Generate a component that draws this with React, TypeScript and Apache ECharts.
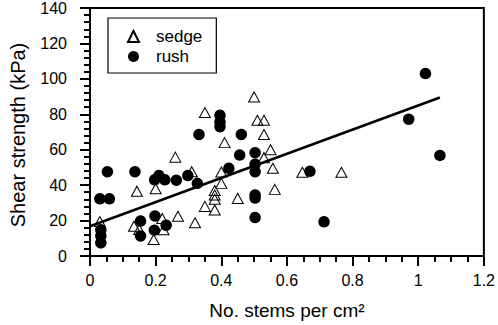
import React, { useEffect, useRef } from "react";
import * as echarts from "echarts";

// Sedge (open triangles)
const sedgeX = [0.50, 0.35, 0.51, 0.53, 0.41, 0.53, 0.26, 0.55, 0.53, 0.31, 0.40, 0.557, 0.143, 0.20, 0.40, 0.563, 0.38, 0.38, 0.38, 0.45, 0.35, 0.38, 0.268, 0.32, 0.03, 0.134, 0.15, 0.22, 0.224, 0.194, 0.647, 0.766];
const sedgeY = [89.8, 81, 76.6, 76.6, 64, 68.6, 55.8, 60, 55.5, 47.6, 47.4, 49.5, 36.6, 38, 41, 37.6, 37, 34.4, 32, 32.5, 28, 26, 22.4, 18.8, 19.5, 16.8, 15, 21.2, 14.8, 9.3, 47.3, 47.3];

// Rush (filled circles)
const rushX = [0.396, 0.396, 0.396, 0.332, 0.461, 0.503, 0.456, 0.503, 0.503, 0.423, 0.053, 0.137, 0.21, 0.197, 0.228, 0.263, 0.298, 0.327, 0.03, 0.059, 0.503, 0.503, 0.503, 0.154, 0.198, 0.232, 0.196, 0.154, 0.033, 0.033, 0.033, 0.67, 0.713, 1.022, 0.971, 1.066];
const rushY = [79.4, 75.7, 73, 68.6, 68.6, 58.3, 57, 51.8, 47.6, 49.5, 47.6, 47.6, 45.4, 43, 43, 42.8, 45.4, 41, 32.3, 32.3, 34.5, 32.7, 21.7, 19.7, 22.6, 17.4, 14.6, 11.3, 14.8, 11.4, 7.4, 47.8, 19.3, 103, 77.2, 56.8];

// Regression line end points
const fitX = [0, 1.066];
const fitY = [16.8, 89.5];

const xTicks = { min: 0, max: 1.2, interval: 0.2 };
const yTicks = { min: 0, max: 140, interval: 20 };

const FONT = "'Liberation Sans', Arial, Helvetica, sans-serif";

export default function App() {
  const ref = useRef<HTMLDivElement>(null);
  useEffect(() => {
    if (!ref.current) return;
    const chart = echarts.init(ref.current, null, { renderer: "svg" });
    const zip = (xs: number[], ys: number[]) => xs.map((x, i) => [x, ys[i]]);
    chart.setOption({
      animation: false,
      backgroundColor: "#fff",
      textStyle: { fontFamily: FONT, color: "#000" },
      grid: {
        left: 81,
        top: 5,
        right: 14,
        bottom: 66,
        show: true,
        borderColor: "#000",
        borderWidth: 2,
        backgroundColor: "transparent",
      },
      legend: {
        orient: "vertical",
        left: 108,
        top: 18,
        data: ["sedge", "rush"],
        padding: [10, 14, 8, 19],
        itemGap: 3,
        itemWidth: 11,
        itemHeight: 11,
        borderColor: "#000",
        borderWidth: 1.2,
        backgroundColor: "#fff",
        textStyle: { fontFamily: FONT, fontSize: 17, color: "#000", padding: [0, 0, 0, 12] },
      },
      xAxis: {
        type: "value",
        min: xTicks.min,
        max: xTicks.max,
        interval: xTicks.interval,
        name: "No. stems per cm\u00B2",
        nameLocation: "middle",
        nameGap: 45,
        nameTextStyle: { fontFamily: FONT, fontSize: 19, color: "#000" },
        axisLine: { show: true, lineStyle: { color: "#000", width: 2 } },
        axisTick: { show: true, length: 10, lineStyle: { color: "#000", width: 2 } },
        minorTick: { show: true, splitNumber: 4, length: 6, lineStyle: { color: "#000", width: 2 } },
        axisLabel: { fontFamily: FONT, fontSize: 16, color: "#000", margin: 16 },
        splitLine: { show: false },
      },
      yAxis: {
        type: "value",
        min: yTicks.min,
        max: yTicks.max,
        interval: yTicks.interval,
        name: "Shear strength (kPa)",
        nameLocation: "middle",
        nameGap: 62,
        nameTextStyle: { fontFamily: FONT, fontSize: 20, color: "#000", padding: [0, 6, 0, 0] },
        axisLine: { show: true, lineStyle: { color: "#000", width: 2 } },
        axisTick: { show: true, length: 10, lineStyle: { color: "#000", width: 2 } },
        minorTick: { show: true, splitNumber: 5, length: 6, lineStyle: { color: "#000", width: 2 } },
        axisLabel: { fontFamily: FONT, fontSize: 16, color: "#000", margin: 23 },
        splitLine: { show: false },
      },
      series: [
        {
          name: "sedge",
          type: "scatter",
          symbol: "triangle",
          symbolSize: [11, 10],
          data: zip(sedgeX, sedgeY),
          itemStyle: { color: "rgba(255,255,255,0)", borderColor: "#000", borderWidth: 1, opacity: 1 },
          z: 2,
        },
        {
          name: "rush",
          type: "scatter",
          symbol: "circle",
          symbolSize: 11.5,
          data: zip(rushX, rushY),
          itemStyle: { color: "#000", borderColor: "#000", borderWidth: 0, opacity: 1 },
          z: 3,
        },
        {
          name: "fit",
          type: "line",
          data: zip(fitX, fitY),
          showSymbol: false,
          symbol: "none",
          lineStyle: { color: "#000", width: 2.5 },
          z: 4,
        },
      ],
    });
    return () => chart.dispose();
  }, []);
  return (
    <div
      ref={ref}
      style={{ position: "absolute", left: 0, top: 0, width: 498, height: 325 }}
    />
  );
}
